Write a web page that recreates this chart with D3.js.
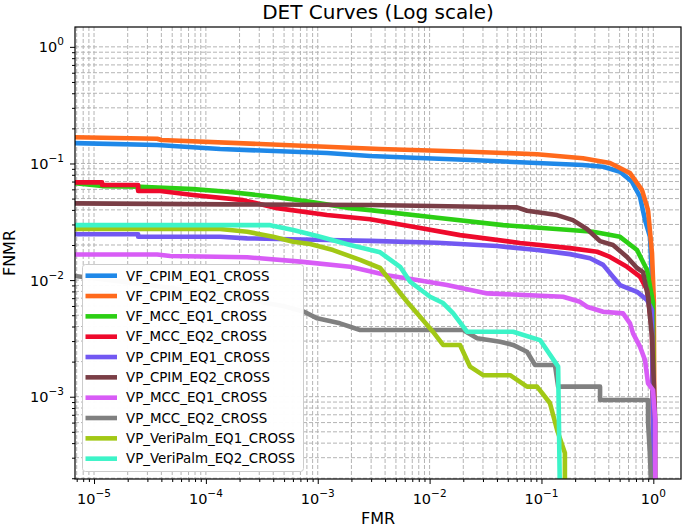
<!DOCTYPE html>
<html>
<head>
<meta charset="utf-8">
<script src="https://cdn.jsdelivr.net/npm/d3@7"></script>
<style>
  html, body { margin: 0; padding: 0; background: #fff; }
  svg { display: block; font-family: "DejaVu Sans", sans-serif; }
</style>
</head>
<body>
<svg id="chart" width="685" height="529"></svg>
<script>
// ---- Data: [FMR, FNMR] pairs ----
const VF_CPIM_EQ1 = [[6e-6,0.150],[3.67e-5,0.144],[1.34e-4,0.133],[1.21e-3,0.123],[2.94e-3,0.116],[2.30e-2,0.107],[9.14e-2,0.101],[0.235,0.0969],[0.356,0.0936],[0.504,0.0849],[0.645,0.0696],[0.760,0.0518],[0.843,0.0327],[0.935,0.0234],[0.994,0.00636],[1.01,1e-4]];
const VF_CPIM_EQ2 = [[6e-6,0.168],[3.67e-5,0.163],[4.0e-5,0.159],[3.61e-3,0.133],[2.30e-2,0.126],[9.14e-2,0.120],[0.235,0.111],[0.410,0.101],[0.619,0.0827],[0.793,0.0591],[0.897,0.0398],[0.973,0.0171],[1.01,0.0068],[1.03,1e-4]];
const VF_MCC_EQ1 = [[6e-6,0.0688],[1.18e-5,0.0640],[2.59e-5,0.0631],[7.69e-5,0.0603],[1.55e-4,0.0572],[3.99e-4,0.0518],[8.56e-4,0.0469],[1.95e-3,0.0414],[2.94e-3,0.0398],[1.17e-2,0.0342],[4.54e-2,0.0296],[0.180,0.0269],[0.289,0.0260],[0.504,0.0235],[0.715,0.0181],[0.879,0.0122],[0.994,0.00636],[1.01,1e-4]];
const VF_MCC_EQ2 = [[6e-6,0.0688],[1.18e-5,0.0688],[1.18e-5,0.0653],[2.48e-5,0.0653],[2.48e-5,0.0580],[3.91e-5,0.0580],[7.69e-5,0.0536],[2.15e-4,0.0485],[4.34e-4,0.0414],[1.21e-3,0.0361],[2.94e-3,0.0333],[7.12e-3,0.0287],[1.87e-2,0.0243],[6.44e-2,0.0208],[0.180,0.0188],[0.314,0.0175],[0.410,0.0158],[0.582,0.0130],[0.760,0.0107],[0.879,0.00822],[0.973,0.00373],[1.01,1e-4]];
const VP_CPIM_EQ1 = [[6e-6,0.0247],[2.48e-5,0.0247],[2.48e-5,0.0235],[1.34e-4,0.0235],[2.34e-4,0.0228],[1.21e-3,0.0221],[2.94e-3,0.0217],[1.17e-2,0.0209],[4.01e-2,0.0196],[9.14e-2,0.0181],[0.180,0.0167],[0.272,0.0154],[0.356,0.0135],[0.436,0.0107],[0.504,0.00906],[0.715,0.00794],[0.879,0.00675],[0.973,0.00553],[1.01,1e-4]];
const VP_CPIM_EQ2 = [[6e-6,0.0455],[1.55e-4,0.0446],[2.94e-3,0.0440],[6.05e-2,0.0420],[7.43e-2,0.0393],[0.138,0.0361],[0.191,0.0327],[0.255,0.0274],[0.334,0.0216],[0.436,0.0200],[0.582,0.0158],[0.715,0.0127],[0.809,0.0117],[0.897,0.00720],[0.973,0.00327],[1.01,0.00130],[1.04,0.000631],[1.04,1e-4]];
const VP_MCC_EQ1 = [[6e-6,0.0166],[3.67e-5,0.0166],[4.80e-5,0.0161],[2.34e-4,0.0157],[6.97e-4,0.0144],[1.95e-3,0.0130],[4.17e-3,0.0110],[7.73e-3,0.0100],[1.43e-2,0.00906],[3.27e-2,0.00769],[0.156,0.00720],[0.221,0.00652],[0.255,0.00591],[0.356,0.00535],[0.536,0.00518],[0.619,0.00426],[0.659,0.00349],[0.760,0.00269],[0.843,0.00206],[0.897,0.00130],[0.994,0.00114],[1.04,0.000631],[1.04,1e-4]];
const VP_MCC_EQ2 = [[6e-6,0.0110],[3.18e-5,0.00906],[1.34e-4,0.00745],[4.9e-4,0.00600],[7.57e-4,0.00535],[9.89e-4,0.00470],[1.58e-3,0.00426],[2.39e-3,0.00373],[1.99e-2,0.00373],[2.66e-2,0.00317],[4.27e-2,0.00296],[5.57e-2,0.00278],[7.43e-2,0.00243],[8.76e-2,0.00187],[0.132,0.00187],[0.141,0.00122],[0.334,0.00122],[0.334,0.000937],[0.897,0.000937],[0.897,0.000611],[0.935,0.000306],[0.973,1e-4]];
const VP_VeriPalm_EQ1 = [[6e-6,0.0274],[1.34e-4,0.0274],[2.34e-4,0.0260],[3.99e-4,0.0235],[6.03e-4,0.0213],[8.56e-4,0.0204],[1.37e-3,0.0181],[2.39e-3,0.0149],[3.61e-3,0.0127],[6.29e-3,0.00652],[8.22e-3,0.00485],[1.07e-2,0.00361],[1.32e-2,0.00278],[1.87e-2,0.00278],[2.30e-2,0.00181],[3.01e-2,0.00153],[5.24e-2,0.00153],[7.43e-2,0.00122],[9.14e-2,0.00122],[0.119,0.000883],[0.138,0.000519],[0.162,0.000329],[0.162,1e-4]];
const VP_VeriPalm_EQ2 = [[6e-6,0.0296],[3.76e-4,0.0296],[6.03e-4,0.0269],[1.05e-3,0.0235],[1.95e-3,0.0200],[3.61e-3,0.0173],[5.45e-3,0.0130],[6.70e-3,0.00968],[1.01e-2,0.00720],[1.32e-2,0.00636],[1.62e-2,0.00521],[2.16e-2,0.00361],[5.57e-2,0.00361],[9.71e-2,0.00306],[0.141,0.00181],[0.147,1e-4]];

const seriesNames = ["VF_CPIM_EQ1_CROSS","VF_CPIM_EQ2_CROSS","VF_MCC_EQ1_CROSS","VF_MCC_EQ2_CROSS","VP_CPIM_EQ1_CROSS","VP_CPIM_EQ2_CROSS","VP_MCC_EQ1_CROSS","VP_MCC_EQ2_CROSS","VP_VeriPalm_EQ1_CROSS","VP_VeriPalm_EQ2_CROSS"];
const seriesData = [VF_CPIM_EQ1, VF_CPIM_EQ2, VF_MCC_EQ1, VF_MCC_EQ2, VP_CPIM_EQ1, VP_CPIM_EQ2, VP_MCC_EQ1, VP_MCC_EQ2, VP_VeriPalm_EQ1, VP_VeriPalm_EQ2];
const seriesColors = ["#1f88e8","#ff6a1c","#2ccf14","#ee0a2c","#7258f2","#7a3e46","#d85cf6","#808080","#a2c815","#3cf4c8"];

const fmrTicks = [1e-5, 1e-4, 1e-3, 1e-2, 1e-1, 1];
const fmrTickExp = ["−5", "−4", "−3", "−2", "−1", "0"];
const fnmrTicks = [1e-3, 1e-2, 1e-1, 1];
const fnmrTickExp = ["−3", "−2", "−1", "0"];

const titleText = "DET Curves (Log scale)";
const xLabel = "FMR";
const yLabel = "FNMR";

// ---- Layout ----
const L = 75, R = 681, T = 27, B = 479;
const svg = d3.select("#chart");

const x = d3.scaleLog().domain([6.76e-6, 1.768]).range([L, R]);
const y = d3.scaleLog().domain([1.97e-4, 1.48]).range([B, T]);

function minors(domain) {
  const out = [];
  const lo = Math.floor(Math.log10(domain[0])), hi = Math.ceil(Math.log10(domain[1]));
  for (let d = lo; d <= hi; d++) for (let k = 2; k <= 9; k++) {
    const v = k * Math.pow(10, d);
    if (v >= domain[0] && v <= domain[1]) out.push(v);
  }
  return out;
}
const xMinor = minors(x.domain());
const yMinor = minors(y.domain());

// grid
const grid = svg.append("g").attr("stroke", "#b4b4b4").attr("stroke-width", 1).attr("stroke-dasharray", "4,2");
[...fmrTicks, ...xMinor].forEach(v => {
  grid.append("line").attr("x1", x(v)).attr("x2", x(v)).attr("y1", T).attr("y2", B);
});
[...fnmrTicks, ...yMinor].forEach(v => {
  grid.append("line").attr("x1", L).attr("x2", R).attr("y1", y(v)).attr("y2", y(v));
});

// clip
svg.append("clipPath").attr("id", "clip").append("rect")
  .attr("x", L).attr("y", T).attr("width", R - L).attr("height", B - T);

const line = d3.line().x(d => x(d[0])).y(d => y(d[1]));
const plot = svg.append("g").attr("clip-path", "url(#clip)");
seriesData.forEach((s, i) => {
  plot.append("path").datum(s).attr("d", line)
    .attr("fill", "none").attr("stroke", seriesColors[i])
    .attr("stroke-width", 4.6).attr("stroke-linejoin", "round").attr("stroke-linecap", "butt");
});

// axes
function styleAxis(g) {
  g.select(".domain").remove();
  g.selectAll("line").attr("stroke", "#000").attr("stroke-width", 1);
  g.selectAll("text").remove();
}
svg.append("g").attr("transform", `translate(0,${B})`)
  .call(d3.axisBottom(x).tickValues(fmrTicks).tickSize(5).tickSizeOuter(0)).call(styleAxis);
svg.append("g").attr("transform", `translate(0,${B})`)
  .call(d3.axisBottom(x).tickValues(xMinor).tickSize(3).tickSizeOuter(0)).call(styleAxis);
svg.append("g").attr("transform", `translate(${L},0)`)
  .call(d3.axisLeft(y).tickValues(fnmrTicks).tickSize(5).tickSizeOuter(0)).call(styleAxis);
svg.append("g").attr("transform", `translate(${L},0)`)
  .call(d3.axisLeft(y).tickValues(yMinor).tickSize(3).tickSizeOuter(0)).call(styleAxis);

// tick labels
fmrTicks.forEach((v, i) => {
  const t = svg.append("text").attr("x", x(v)).attr("y", 503.5).attr("text-anchor", "middle")
    .attr("font-size", 14.5).attr("fill", "#000");
  t.append("tspan").text("10");
  t.append("tspan").attr("dy", -7).attr("font-size", 10.5).text(fmrTickExp[i]);
});
fnmrTicks.forEach((v, i) => {
  const t = svg.append("text").attr("x", 64).attr("y", y(v) + 5.5).attr("text-anchor", "end")
    .attr("font-size", 14.5).attr("fill", "#000");
  t.append("tspan").text("10");
  t.append("tspan").attr("dy", -7).attr("font-size", 10.5).text(fnmrTickExp[i]);
});

// frame
svg.append("rect").attr("x", L).attr("y", T).attr("width", R - L).attr("height", B - T)
  .attr("fill", "none").attr("stroke", "#000").attr("stroke-width", 1.2);

// title & labels
svg.append("text").attr("x", (L + R) / 2).attr("y", 19).attr("text-anchor", "middle")
  .attr("font-size", 20).text(titleText);
svg.append("text").attr("x", (L + R) / 2).attr("y", 524).attr("text-anchor", "middle")
  .attr("font-size", 16).text(xLabel);
svg.append("text").attr("transform", `translate(15,${(T + B) / 2}) rotate(-90)`).attr("text-anchor", "middle")
  .attr("font-size", 16).text(yLabel);

// legend
const lg = svg.append("g");
lg.append("rect").attr("x", 82.5).attr("y", 264.5).attr("width", 221).attr("height", 207).attr("rx", 3)
  .attr("fill", "#fff").attr("fill-opacity", 0.97).attr("stroke", "#cccccc").attr("stroke-width", 1);
seriesNames.forEach((name, i) => {
  const yy = 275.7 + i * 20.33;
  lg.append("line").attr("x1", 85.5).attr("x2", 117).attr("y1", yy).attr("y2", yy)
    .attr("stroke", seriesColors[i]).attr("stroke-width", 4.6);
  lg.append("text").attr("x", 126).attr("y", yy + 4.8).attr("font-size", 13.4).text(name);
});
</script>
</body>
</html>
